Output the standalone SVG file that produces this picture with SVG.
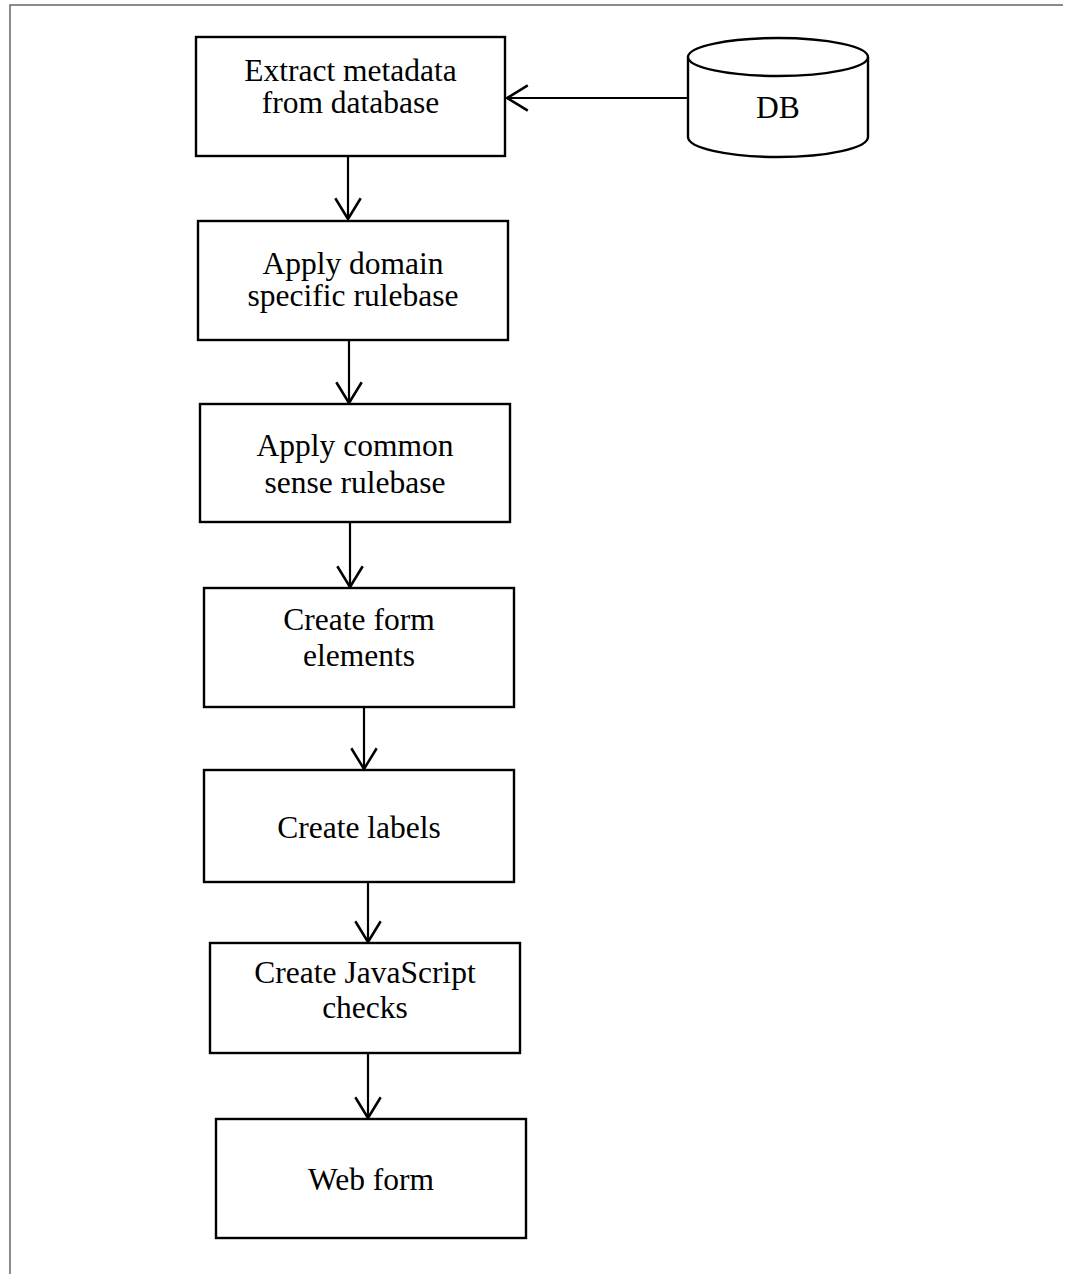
<svg xmlns="http://www.w3.org/2000/svg" width="1065" height="1274" viewBox="0 0 1065 1274">
<defs>
<style>
.box{fill:#fff;stroke:#000;stroke-width:2.4}
.t{font-family:"Liberation Serif","Times New Roman",serif;font-size:31.5px;fill:#000;text-anchor:middle}
.c{stroke:#000;stroke-width:2.2;fill:none}
.frame{stroke:#666;stroke-width:1.5;fill:none}
</style>
<marker id="ah" markerUnits="userSpaceOnUse" markerWidth="30" markerHeight="30" viewBox="-20 -13 22 26" refX="0" refY="0" orient="auto">
<path d="M-18,-11 L0,0 L-18,11" fill="none" stroke="#000" stroke-width="2.2"/>
</marker>
</defs>
<rect width="1065" height="1274" fill="#fff"/>
<path class="frame" d="M10,1274 L10,5 L1063,5"/>
<g id="connectors">
<line class="c" x1="688" y1="98" x2="507" y2="98" marker-end="url(#ah)"/>
<line class="c" x1="348" y1="156" x2="348" y2="219" marker-end="url(#ah)"/>
<line class="c" x1="349" y1="340" x2="349" y2="403" marker-end="url(#ah)"/>
<line class="c" x1="350" y1="522" x2="350" y2="587" marker-end="url(#ah)"/>
<line class="c" x1="364" y1="707" x2="364" y2="769" marker-end="url(#ah)"/>
<line class="c" x1="368" y1="882" x2="368" y2="942" marker-end="url(#ah)"/>
<line class="c" x1="368" y1="1053" x2="368" y2="1118" marker-end="url(#ah)"/>
</g>
<g id="db">
<path class="box" d="M688,57 L688,137 A90,20 0 0 0 868,137 L868,57"/>
<ellipse class="box" cx="778" cy="57" rx="90" ry="19"/>
<text class="t" x="778" y="118">DB</text>
</g>
<g id="n1">
<rect class="box" x="196" y="37" width="309" height="119"/>
<text class="t" x="350.5" y="81">Extract metadata</text>
<text class="t" x="350.5" y="113">from database</text>
</g>
<g id="n2">
<rect class="box" x="198" y="221" width="310" height="119"/>
<text class="t" x="353" y="274">Apply domain</text>
<text class="t" x="353" y="306">specific rulebase</text>
</g>
<g id="n3">
<rect class="box" x="200" y="404" width="310" height="118"/>
<text class="t" x="355" y="456">Apply common</text>
<text class="t" x="355" y="493">sense rulebase</text>
</g>
<g id="n4">
<rect class="box" x="204" y="588" width="310" height="119"/>
<text class="t" x="359" y="630">Create form</text>
<text class="t" x="359" y="666">elements</text>
</g>
<g id="n5">
<rect class="box" x="204" y="770" width="310" height="112"/>
<text class="t" x="359" y="838">Create labels</text>
</g>
<g id="n6">
<rect class="box" x="210" y="943" width="310" height="110"/>
<text class="t" x="365" y="983">Create JavaScript</text>
<text class="t" x="365" y="1018">checks</text>
</g>
<g id="n7">
<rect class="box" x="216" y="1119" width="310" height="119"/>
<text class="t" x="371" y="1190">Web form</text>
</g>
</svg>
